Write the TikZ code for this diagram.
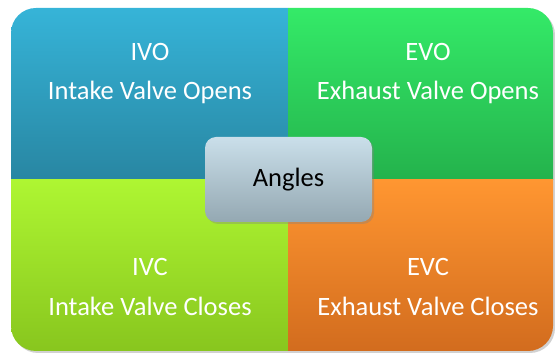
\documentclass[tikz,border=0pt]{standalone}
\usepackage{fontspec}
\setmainfont{Carlito}
\usetikzlibrary{shadows}
\definecolor{bluetop}{HTML}{36B4D8}
\definecolor{bluebot}{HTML}{2886A2}
\definecolor{greentop}{HTML}{34EA68}
\definecolor{greenbot}{HTML}{24B24C}
\definecolor{limetop}{HTML}{AEF632}
\definecolor{limebot}{HTML}{88C61E}
\definecolor{orangetop}{HTML}{FF9631}
\definecolor{orangebot}{HTML}{D26C1E}
\definecolor{boxtop}{HTML}{CADFEA}
\definecolor{boxbot}{HTML}{94A8B2}
\tikzset{
  label/.style={text=white,font=\fontsize{26.5}{30}\selectfont,inner sep=0pt},
  centerbox/.style={draw=none,rounded corners=11pt,top color=boxtop,bottom color=boxbot,
    minimum width=167pt,minimum height=85pt,font=\fontsize{26.5}{30}\selectfont,text=black,
    drop shadow={shadow xshift=2pt,shadow yshift=-2pt,opacity=0.35}}
}
\begin{document}
\begin{tikzpicture}[x=1pt,y=1pt]
\useasboundingbox (0,0) rectangle (555,353);
\fill[black,opacity=0.18,rounded corners=25pt] (13,0) rectangle (555,343);
\begin{scope}
\clip[rounded corners=25pt] (11,2) rectangle (553,345);
\shade[top color=bluetop,bottom color=bluebot] (11,173) rectangle (288,345);
\shade[top color=greentop,bottom color=greenbot] (288,173) rectangle (553,345);
\shade[top color=limetop,bottom color=limebot] (11,2) rectangle (288,173);
\shade[top color=orangetop,bottom color=orangebot] (288,2) rectangle (553,173);
\end{scope}
\node[label] (ivo) at (150,301) {IVO};
\node[label] (ivod) at (150,261) {Intake Valve Opens};
\node[label] (evo) at (428,301) {EVO};
\node[label] (evod) at (428,261) {Exhaust Valve Opens};
\node[label] (ivc) at (150,86) {IVC};
\node[label] (ivcd) at (150,47) {Intake Valve Closes};
\node[label] (evc) at (428,86) {EVC};
\node[label] (evcd) at (428,47) {Exhaust Valve Closes};
\node[centerbox] (angles) at (288.5,173.5) {Angles};
\end{tikzpicture}
\end{document}
